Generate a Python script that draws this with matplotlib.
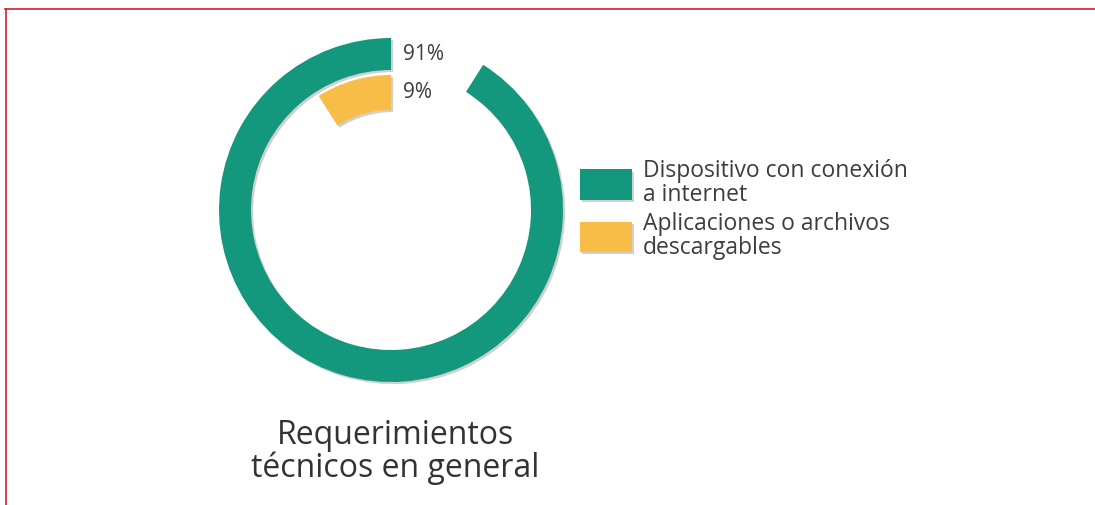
import numpy as np
from matplotlib import pyplot as plt
from matplotlib import patheffects as pe
from matplotlib.lines import Line2D

# data
labels = ['Dispositivo con conexión\na internet', 'Aplicaciones o archivos\ndescargables']
values = [91, 9]
value_text = ['91%', '9%']
colors = ['#14987D', '#F8BD46']
title = 'Requerimientos\ntécnicos en general'

W, H = 1095, 505
plt.rcParams['font.family'] = ['Open Sans', 'DejaVu Sans']
fig = plt.figure(figsize=(W / 100, H / 100), dpi=100)
fig.patch.set_facecolor('white')


def px(x, y):
    """pixel (top-left origin) -> figure fraction"""
    return x / W, 1 - y / H


# polar axes centred on the ring, 1 data unit = 1 px
cx, cy, R = 391, 210, 200
ax = fig.add_axes([(cx - R) / W, (H - cy - R) / H, 2 * R / W, 2 * R / H], projection='polar')
ax.set_theta_zero_location('N')
ax.set_theta_direction(1)
ax.set_rlim(0, R)
ax.axis('off')

radii = [156, 117.5]
widths = [32, 35]
shadow = [pe.SimplePatchShadow(offset=(1.5, -1.5), shadow_rgbFace='#666666', alpha=0.3), pe.Normal()]
handles = []
for v, r, w, c, lab in zip(values, radii, widths, colors, labels):
    bars = ax.bar(0, w, width=np.deg2rad(v * 3.6), bottom=r - w / 2, align='edge',
                  color=c, label=lab)
    for b in bars:
        b.set_path_effects(shadow)
    handles.append(bars)

# percentage labels next to the start of each bar
for r, t in zip(radii, value_text):
    fig.text(*px(403, cy - r), t, fontsize=15, color='#3d3d3d', ha='left', va='center')

leg = fig.legend(handles=handles, loc='upper left', bbox_to_anchor=px(580, 159),
                 frameon=False, fontsize=16.5, handlelength=2.27, handleheight=1.65,
                 handletextpad=0.48, labelspacing=0.2, borderpad=0, borderaxespad=0)
for t in leg.get_texts():
    t.set_color('#3d3d3d')
    t.set_linespacing(1.0)

fig.text(*px(395, 452), title, fontsize=23, color='#333333', ha='center', va='center',
         linespacing=1.0)

# red frame lines top and left
fig.add_artist(Line2D([5 / W, 1], [1 - 9 / H] * 2, color='#D0212A', lw=1.2))
fig.add_artist(Line2D([6 / W] * 2, [0, 1 - 9 / H], color='#D0212A', lw=1.2))

fig.savefig('out.png', dpi=100, facecolor='white')
